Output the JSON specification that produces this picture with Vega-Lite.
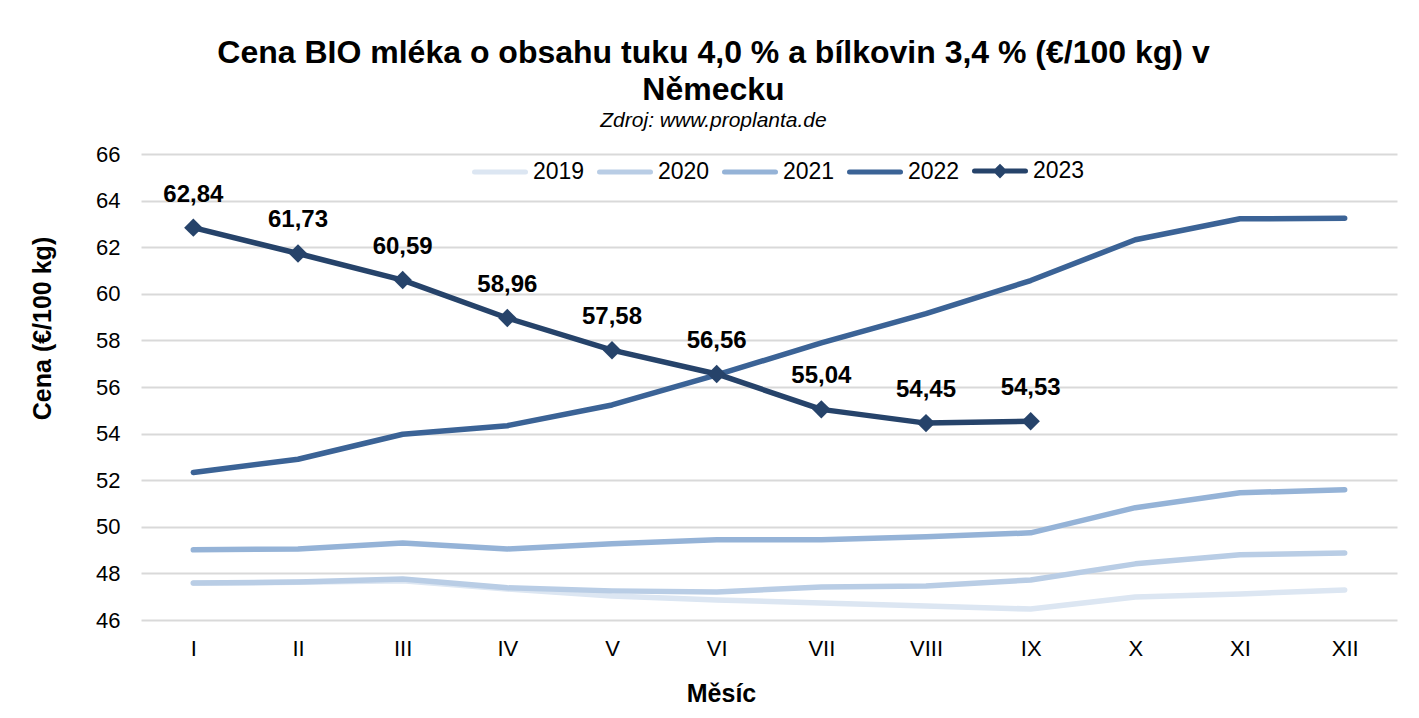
{
  "$schema": "https://vega.github.io/schema/vega-lite/v6.json",
  "autosize": {"type": "none"},
  "padding": {"left": 141, "top": 154, "right": 22, "bottom": 98},
  "width": 1256,
  "height": 466,
  "background": "white",
  "title": {
    "text": ["Cena BIO mléka o obsahu tuku 4,0 % a bílkovin 3,4 % (€/100 kg) v", "Německu"],
    "subtitle": "Zdroj: www.proplanta.de",
    "anchor": "middle",
    "frame": "bounds",
    "font": "Liberation Sans",
    "fontSize": 32,
    "fontWeight": "bold",
    "color": "#000000",
    "lineHeight": 37,
    "subtitleFont": "Liberation Sans",
    "subtitleFontSize": 21,
    "subtitleFontStyle": "italic",
    "subtitleColor": "#000000",
    "subtitlePadding": 3,
    "offset": 11
  },
  "config": {
    "font": "Liberation Sans",
    "view": {"stroke": null},
    "locale": {"number": {"decimal": ",", "thousands": " ", "grouping": [3], "currency": ["", " €"]}},
    "axis": {"labelFont": "Liberation Sans", "labelColor": "#000000", "titleFont": "Liberation Sans", "titleColor": "#000000"}
  },
  "datasets": {
    "milk": [
      {"month": "I", "year": "2019", "price": 47.58},
      {"month": "II", "year": "2019", "price": 47.62},
      {"month": "III", "year": "2019", "price": 47.68},
      {"month": "IV", "year": "2019", "price": 47.33},
      {"month": "V", "year": "2019", "price": 47.03},
      {"month": "VI", "year": "2019", "price": 46.86},
      {"month": "VII", "year": "2019", "price": 46.73},
      {"month": "VIII", "year": "2019", "price": 46.6},
      {"month": "IX", "year": "2019", "price": 46.47},
      {"month": "X", "year": "2019", "price": 46.99},
      {"month": "XI", "year": "2019", "price": 47.12},
      {"month": "XII", "year": "2019", "price": 47.29},
      {"month": "I", "year": "2020", "price": 47.59},
      {"month": "II", "year": "2020", "price": 47.63},
      {"month": "III", "year": "2020", "price": 47.76},
      {"month": "IV", "year": "2020", "price": 47.38},
      {"month": "V", "year": "2020", "price": 47.25},
      {"month": "VI", "year": "2020", "price": 47.2},
      {"month": "VII", "year": "2020", "price": 47.42},
      {"month": "VIII", "year": "2020", "price": 47.46},
      {"month": "IX", "year": "2020", "price": 47.72},
      {"month": "X", "year": "2020", "price": 48.41},
      {"month": "XI", "year": "2020", "price": 48.8},
      {"month": "XII", "year": "2020", "price": 48.88},
      {"month": "I", "year": "2021", "price": 49.01},
      {"month": "II", "year": "2021", "price": 49.05},
      {"month": "III", "year": "2021", "price": 49.3},
      {"month": "IV", "year": "2021", "price": 49.05},
      {"month": "V", "year": "2021", "price": 49.27},
      {"month": "VI", "year": "2021", "price": 49.44},
      {"month": "VII", "year": "2021", "price": 49.44},
      {"month": "VIII", "year": "2021", "price": 49.57},
      {"month": "IX", "year": "2021", "price": 49.74},
      {"month": "X", "year": "2021", "price": 50.82},
      {"month": "XI", "year": "2021", "price": 51.46},
      {"month": "XII", "year": "2021", "price": 51.59},
      {"month": "I", "year": "2022", "price": 52.33},
      {"month": "II", "year": "2022", "price": 52.9},
      {"month": "III", "year": "2022", "price": 53.97},
      {"month": "IV", "year": "2022", "price": 54.34},
      {"month": "V", "year": "2022", "price": 55.23},
      {"month": "VI", "year": "2022", "price": 56.52},
      {"month": "VII", "year": "2022", "price": 57.89},
      {"month": "VIII", "year": "2022", "price": 59.15},
      {"month": "IX", "year": "2022", "price": 60.57},
      {"month": "X", "year": "2022", "price": 62.32},
      {"month": "XI", "year": "2022", "price": 63.22},
      {"month": "XII", "year": "2022", "price": 63.24},
      {"month": "I", "year": "2023", "price": 62.84},
      {"month": "II", "year": "2023", "price": 61.73},
      {"month": "III", "year": "2023", "price": 60.59},
      {"month": "IV", "year": "2023", "price": 58.96},
      {"month": "V", "year": "2023", "price": 57.58},
      {"month": "VI", "year": "2023", "price": 56.56},
      {"month": "VII", "year": "2023", "price": 55.04},
      {"month": "VIII", "year": "2023", "price": 54.45},
      {"month": "IX", "year": "2023", "price": 54.53}
    ]
  },
  "data": {"name": "milk"},
  "encoding": {
    "x": {
      "field": "month",
      "type": "ordinal",
      "sort": ["I", "II", "III", "IV", "V", "VI", "VII", "VIII", "IX", "X", "XI", "XII"],
      "scale": {"type": "point", "padding": 0.5},
      "axis": {
        "title": "Měsíc",
        "labelAngle": 0,
        "domain": false,
        "ticks": false,
        "tickSize": 0,
        "grid": false,
        "labelPadding": 18,
        "labelFontSize": 22,
        "titleFontSize": 25,
        "titleFontWeight": "bold",
        "titleX": 580,
        "titleY": 73,
        "titleAlign": "center",
        "titleBaseline": "middle"
      }
    },
    "y": {
      "field": "price",
      "type": "quantitative",
      "scale": {"domain": [46, 66], "nice": false, "zero": false},
      "axis": {
        "title": "Cena (€/100 kg)",
        "values": [46, 48, 50, 52, 54, 56, 58, 60, 62, 64, 66],
        "grid": true,
        "gridColor": "#d9d9d9",
        "gridWidth": 2,
        "domain": false,
        "ticks": false,
        "tickSize": 0,
        "labelPadding": 21,
        "labelFontSize": 22,
        "titleFontSize": 25,
        "titleFontWeight": "bold",
        "titleAngle": -90,
        "titleX": -99,
        "titleY": 174,
        "titleAlign": "center",
        "titleBaseline": "middle"
      }
    }
  },
  "layer": [
    {
      "mark": {"type": "line", "strokeWidth": 5.5, "strokeCap": "round", "strokeJoin": "round"},
      "encoding": {
        "color": {
          "field": "year",
          "type": "nominal",
          "scale": {"domain": ["2019", "2020", "2021", "2022", "2023"], "range": ["#dce6f2", "#b9cde5", "#95b3d7", "#3b6396", "#26436a"]},
          "legend": {
            "title": null,
            "orient": "none",
            "legendX": 331,
            "legendY": -11,
            "direction": "horizontal",
            "padding": 0,
            "symbolSize": 2601,
            "symbolStrokeWidth": 5,
            "labelFont": "Liberation Sans",
            "labelFontSize": 23,
            "labelColor": "#000000",
            "labelOffset": 5,
            "columnPadding": 4,
            "encode": {"symbols": {"update": {"fill": {"scale": "color", "field": "value"}, "stroke": {"scale": "color", "field": "value"}, "opacity": {"value": 1}, "strokeCap": {"value": "round"}}}}
          }
        }
      }
    },
    {
      "mark": {"type": "point", "opacity": 0, "filled": true},
      "encoding": {
        "color": {
          "field": "year",
          "type": "nominal",
          "legend": {
            "title": null,
            "orient": "none",
            "legendX": 331,
            "legendY": -11,
            "direction": "horizontal",
            "padding": 0,
            "symbolSize": 2601,
            "symbolStrokeWidth": 5,
            "labelFont": "Liberation Sans",
            "labelFontSize": 23,
            "labelColor": "#000000",
            "labelOffset": 5,
            "columnPadding": 4,
            "encode": {"symbols": {"update": {"fill": {"scale": "color", "field": "value"}, "stroke": {"scale": "color", "field": "value"}, "opacity": {"value": 1}, "strokeCap": {"value": "round"}}}}
          }
        },
        "shape": {
          "field": "year",
          "type": "nominal",
          "scale": {"domain": ["2019", "2020", "2021", "2022", "2023"], "range": ["M-1,0L1,0", "M-1,0L1,0", "M-1,0L1,0", "M-1,0L1,0", "M-1,0L1,0M-0.15,0L0,-0.15L0.15,0L0,0.15Z"]},
          "legend": {
            "title": null,
            "orient": "none",
            "legendX": 331,
            "legendY": -11,
            "direction": "horizontal",
            "padding": 0,
            "symbolSize": 2601,
            "symbolStrokeWidth": 5,
            "labelFont": "Liberation Sans",
            "labelFontSize": 23,
            "labelColor": "#000000",
            "labelOffset": 5,
            "columnPadding": 4,
            "encode": {"symbols": {"update": {"fill": {"scale": "color", "field": "value"}, "stroke": {"scale": "color", "field": "value"}, "opacity": {"value": 1}, "strokeCap": {"value": "round"}}}}
          }
        }
      }
    },
    {
      "transform": [{"filter": "datum.year == '2023'"}],
      "mark": {"type": "point", "shape": "diamond", "filled": true, "size": 340, "opacity": 1, "color": "#26436a"}
    },
    {
      "transform": [{"filter": "datum.year == '2023'"}],
      "mark": {"type": "text", "dy": -33, "baseline": "middle", "align": "center", "font": "Liberation Sans", "fontSize": 24, "fontWeight": "bold", "color": "#000000"},
      "encoding": {"text": {"field": "price", "type": "quantitative", "format": ".2f"}}
    }
  ]
}
